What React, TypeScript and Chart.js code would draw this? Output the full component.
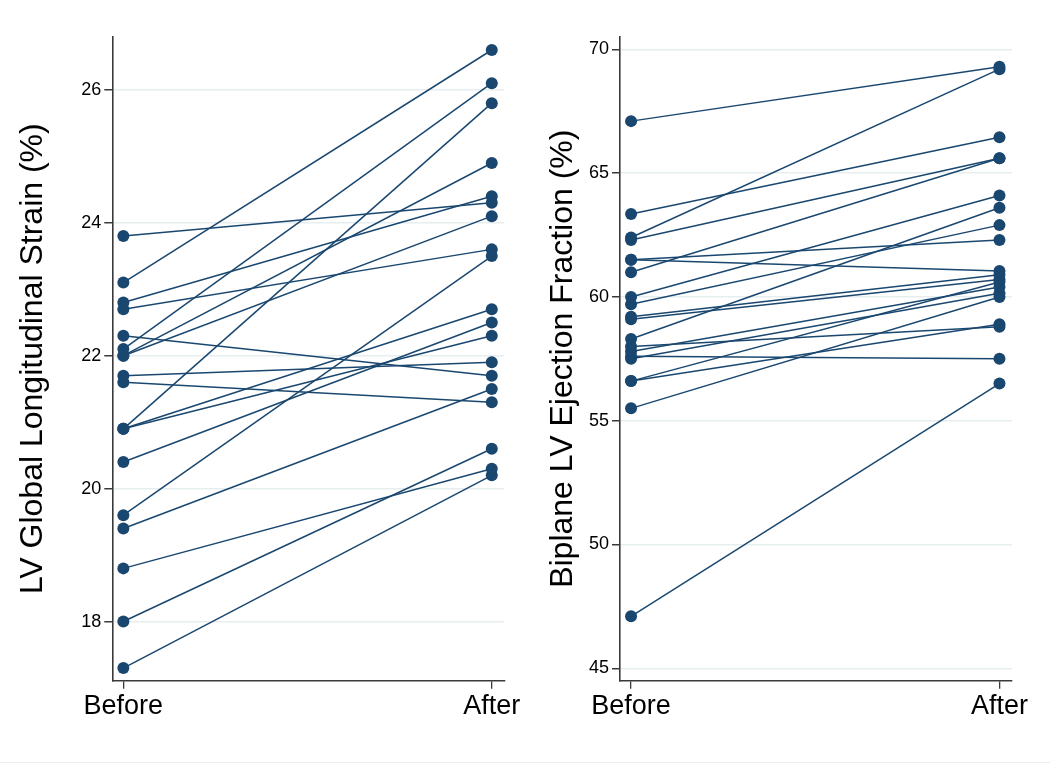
import React, { useEffect, useRef } from "react";
import { Chart, registerables } from "chart.js";

Chart.register(...registerables);

// ---- Data ----
const xLabels = ["Before", "After"];

const glsBefore = [23.8, 23.1, 22.8, 22.7, 22.3, 22.1, 22.0, 22.0, 21.7, 21.6, 20.9, 20.9, 20.9, 20.4, 19.6, 19.4, 18.8, 18.0, 17.3];
const glsAfter = [24.3, 26.6, 24.4, 23.6, 21.7, 26.1, 24.9, 24.1, 21.9, 21.3, 25.8, 22.7, 22.3, 22.5, 23.5, 21.5, 20.3, 20.6, 20.2];
const glsTicks = [18, 20, 22, 24, 26];

const efBefore = [67.1, 63.35, 62.4, 62.3, 61.5, 61.5, 61.0, 60.0, 59.7, 59.2, 59.1, 58.3, 58.0, 57.8, 57.6, 57.5, 56.6, 56.6, 55.5, 47.1];
const efAfter = [69.3, 66.45, 69.2, 65.6, 62.3, 61.05, 65.6, 64.1, 62.9, 60.9, 60.7, 63.6, 58.8, 60.4, 57.5, 60.15, 60.6, 58.9, 60.0, 56.5];
const efTicks = [45, 50, 55, 60, 65, 70];

const NAVY = "#1a476f";
const AXIS = "#3a3a3a";
const GRID = "#e6eef0";
const FONT = "'Liberation Sans', Arial, Helvetica, sans-serif";

type PanelProps = {
  before: number[];
  after: number[];
  ticks: number[];
  yMin: number;
  yMax: number;
  title: string;
  left: number;
  width: number;
  axisWidth: number;
  padRight: number;
  titlePad: number;
};

function Panel(p: PanelProps) {
  const ref = useRef<HTMLCanvasElement | null>(null);
  useEffect(() => {
    if (!ref.current) return;
    const datasets = p.before.map((b, i) => ({
      data: [
        { x: 0, y: b },
        { x: 1, y: p.after[i] },
      ],
      borderColor: NAVY,
      backgroundColor: NAVY,
      pointBackgroundColor: NAVY,
      pointBorderColor: NAVY,
      borderWidth: 1.5,
      pointRadius: 6,
      pointBorderWidth: 0,
      showLine: true,
      clip: false as any,
    }));
    const chart = new Chart(ref.current, {
      type: "line",
      data: { datasets } as any,
      options: {
        animation: false,
        responsive: false,
        maintainAspectRatio: false,
        layout: { padding: { left: 0, right: p.padRight, top: 36.7, bottom: 0 } },
        plugins: { legend: { display: false }, tooltip: { enabled: false } },
        scales: {
          x: {
            type: "linear",
            min: -0.03,
            max: 1.034,
            afterBuildTicks: (s: any) => {
              s.ticks = [{ value: 0 }, { value: 1 }];
            },
            afterFit: (s: any) => {
              s.height = 764 - 680.7;
            },
            ticks: {
              callback: (v: any) => xLabels[Number(v)],
              font: { size: 27, family: FONT },
              color: "#000",
              padding: 2,
              maxRotation: 0,
              autoSkip: false,
            },
            grid: { drawOnChartArea: false, color: AXIS, tickLength: 8, lineWidth: 1.3 },
            border: { display: true, color: AXIS, width: 1.6 },
          },
          y: {
            type: "linear",
            min: p.yMin,
            max: p.yMax,
            afterBuildTicks: (s: any) => {
              s.ticks = p.ticks.map((v) => ({ value: v }));
            },
            afterFit: (s: any) => {
              s.width = p.axisWidth;
            },
            ticks: {
              font: { size: 18, family: FONT },
              color: "#000",
              padding: 3,
              autoSkip: false,
            },
            grid: { color: GRID, tickColor: AXIS, tickLength: 8, lineWidth: 1.5 },
            border: { display: true, color: AXIS, width: 1.6 },
            title: {
              display: true,
              text: p.title,
              font: { size: 32, family: FONT },
              color: "#000",
              padding: { top: p.titlePad, bottom: 0 },
            },
          },
        },
      },
    } as any);
    return () => chart.destroy();
  }, []);
  return (
    <canvas
      ref={ref}
      width={p.width}
      height={764}
      style={{ position: "absolute", left: p.left, top: 0, width: p.width, height: 764 }}
    />
  );
}

export default function App() {
  return (
    <div
      style={{
        position: "absolute",
        left: 0,
        top: 0,
        width: 1050,
        height: 764,
        background: "#fff",
        overflow: "hidden",
      }}
    >
      <Panel
        before={glsBefore}
        after={glsAfter}
        ticks={glsTicks}
        yMin={17.11}
        yMax={26.8}
        title="LV Global Longitudinal Strain (%)"
        left={0}
        width={560}
        axisWidth={112.3}
        padRight={55.7}
        titlePad={14}
      />
      <Panel
        before={efBefore}
        after={efAfter}
        ticks={efTicks}
        yMin={44.5}
        yMax={70.51}
        title="Biplane LV Ejection Fraction (%)"
        left={520}
        width={530}
        axisWidth={100}
        padRight={38}
        titlePad={24}
      />
      <div style={{ position: "absolute", left: 0, top: 762, width: 1050, height: 1, background: "#eeeeee" }} />
    </div>
  );
}
